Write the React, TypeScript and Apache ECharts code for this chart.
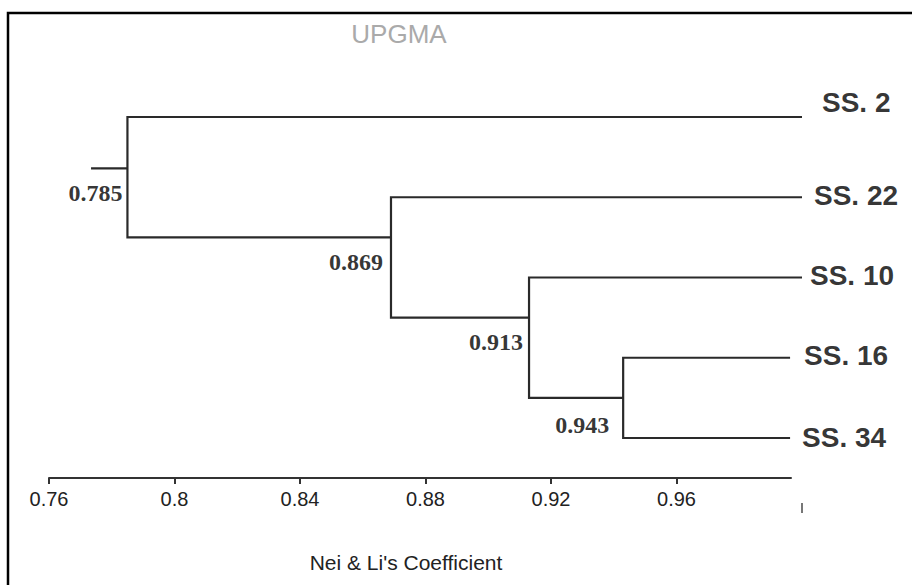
import React, { useEffect, useRef } from "react";
import * as echarts from "echarts";

// ---- data ----
const leafNames = ["SS. 2", "SS. 22", "SS. 10", "SS. 16", "SS. 34"];
const leafEnds = [1.0, 1.0, 1.0, 0.9962, 0.9962];
// internal nodes (UPGMA merges), heights = Nei & Li's coefficient
const nodeHeights = [0.943, 0.913, 0.869, 0.785];
// children indices: 0-4 leaves, 5+ internal nodes
const nodeChildren = [
  [3, 4],
  [2, 5],
  [1, 6],
  [0, 7],
];
// vertical slot (in leaf rows) where each node's stem attaches to its parent
const nodeJoinY = [3.5, 2.5, 1.5, 0.64];
const rootStubStart = 0.7734;
const tickValues = [0.76, 0.8, 0.84, 0.88, 0.92, 0.96];
const axisMin = 0.76;
const axisMax = 0.9965;
const treeMax = 1.0;

const nLeaves = leafNames.length;
const yOf = (i: number) => (i < nLeaves ? i : nodeJoinY[i - nLeaves]);
const xOf = (i: number) => (i < nLeaves ? leafEnds[i] : nodeHeights[i - nLeaves]);

const SANS = "Liberation Sans, Arial, sans-serif";

export default function App() {
  const ref = useRef<HTMLDivElement>(null);
  useEffect(() => {
    document.body.style.margin = "0";
    if (!ref.current) return;
    const chart = echarts.init(ref.current, null, { renderer: "svg" });

    const brackets: any[] = nodeChildren.map(([a, b], k) => ({
      coords: [
        [xOf(a), yOf(a)],
        [nodeHeights[k], yOf(a)],
        [nodeHeights[k], yOf(b)],
        [xOf(b), yOf(b)],
      ],
    }));
    const root = nodeHeights.length - 1;
    brackets.push({
      coords: [
        [rootStubStart, nodeJoinY[root]],
        [nodeHeights[root], nodeJoinY[root]],
      ],
    });

    const leafLabelOffsets = [
      [20, -15],
      [12, -2],
      [8, -2],
      [14, -2],
      [12, -1],
    ];
    const nodeLabelOffsets = [
      [-14, 27],
      [-6, 24],
      [-8, 25],
      [-5, 25],
    ];

    const option: any = {
      animation: false,
      backgroundColor: "#ffffff",
      grid: [
        { left: 49, width: 753, top: 117, height: 321, containLabel: false, outerBoundsMode: "none" },
        { left: 49, width: 742, top: 470, height: 8, containLabel: false, outerBoundsMode: "none" },
      ],
      xAxis: [
        { type: "value", gridIndex: 0, min: axisMin, max: treeMax, show: false },
        {
          type: "value",
          gridIndex: 1,
          min: axisMin,
          max: axisMax,
          position: "bottom",
          splitLine: { show: false },
          axisLine: { show: true, lineStyle: { color: "#333", width: 2 } },
          axisTick: {
            show: true,
            customValues: tickValues,
            length: 6,
            lineStyle: { color: "#333", width: 2 },
          },
          axisLabel: {
            customValues: tickValues,
            margin: 11,
            fontSize: 20,
            color: "#222",
            fontFamily: SANS,
            formatter: (v: number) => String(Number(v.toFixed(2))),
          },
        },
      ],
      yAxis: [
        { type: "value", gridIndex: 0, min: 0, max: 4, inverse: true, show: false },
        { type: "value", gridIndex: 1, min: 0, max: 1, show: false },
      ],
      graphic: [
        {
          type: "rect",
          shape: { x: 8, y: 13, width: 930, height: 600 },
          style: { fill: "none", stroke: "#000", lineWidth: 2.5 },
          silent: true,
        },
        {
          type: "text",
          x: 399,
          y: 34,
          style: {
            text: "UPGMA",
            fontSize: 26,
            fontFamily: SANS,
            fill: "#aaaaaa",
            textAlign: "center",
            textVerticalAlign: "middle",
          },
        },
        {
          type: "text",
          x: 406,
          y: 562,
          style: {
            text: "Nei & Li's Coefficient",
            fontSize: 21,
            fontFamily: SANS,
            fill: "#222",
            textAlign: "center",
            textVerticalAlign: "middle",
          },
        },
        {
          type: "rect",
          shape: { x: 801, y: 503, width: 2, height: 10 },
          style: { fill: "#777" },
          silent: true,
        },
      ],
      series: [
        {
          type: "lines",
          coordinateSystem: "cartesian2d",
          xAxisIndex: 0,
          yAxisIndex: 0,
          polyline: true,
          silent: true,
          lineStyle: { color: "#2a2a2a", width: 2.2, opacity: 1 },
          data: brackets,
        },
        {
          type: "scatter",
          xAxisIndex: 0,
          yAxisIndex: 0,
          symbolSize: 0,
          silent: true,
          data: leafNames.map((name, i) => ({
            name,
            value: [leafEnds[i], i],
            label: { offset: leafLabelOffsets[i] },
          })),
          label: {
            show: true,
            position: "right",
            distance: 0,
            formatter: (p: any) => p.name,
            fontSize: 28,
            fontWeight: "bold",
            color: "#000",
            fontFamily: SANS,
          },
        },
        {
          type: "scatter",
          xAxisIndex: 0,
          yAxisIndex: 0,
          symbolSize: 0,
          silent: true,
          data: nodeHeights.map((h, k) => ({
            value: [h, nodeJoinY[k]],
            label: { offset: nodeLabelOffsets[k] },
          })),
          label: {
            show: true,
            position: "left",
            distance: 0,
            formatter: (p: any) => p.value[0].toFixed(3),
            fontSize: 24,
            fontWeight: "bold",
            color: "#000",
            fontFamily: "Liberation Serif, Times New Roman, serif",
          },
        },
      ],
    };
    chart.setOption(option);
    return () => chart.dispose();
  }, []);
  return <div ref={ref} style={{ width: 912, height: 585 }} />;
}
